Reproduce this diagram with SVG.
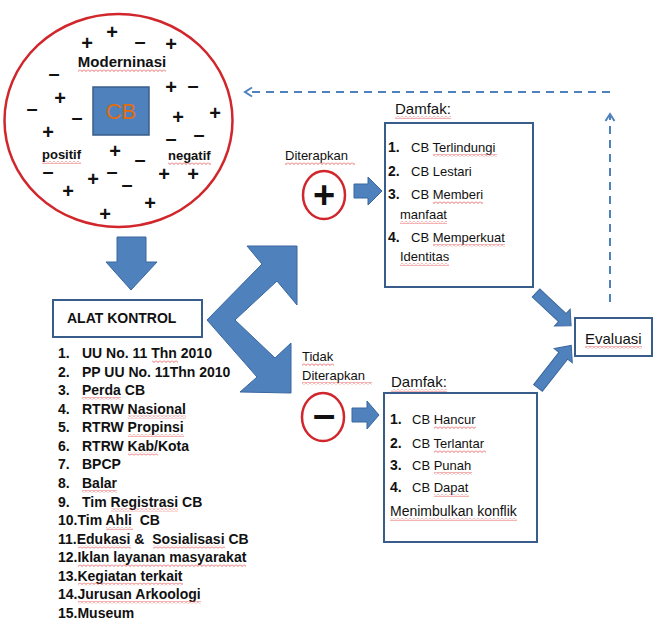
<svg xmlns="http://www.w3.org/2000/svg" width="654" height="619" viewBox="0 0 654 619">
<style>
text{font-family:"Liberation Sans",Arial,sans-serif;fill:#111}
.pm{font-weight:bold;font-size:20px;text-anchor:middle}
.blk{fill:#4f81bd;stroke:#3a679f;stroke-width:1}
.box{fill:#fff;stroke:#385d8a;stroke-width:2}
.red{fill:#fff;stroke:#d0262c;stroke-width:2.5}
.li{font-size:14px;font-weight:bold}
.num{font-size:14px;font-weight:bold}
.it{font-size:13px}
.lbl{font-size:13px}
.dash{fill:none;stroke:#4f81bd;stroke-width:2;stroke-dasharray:8 6}
.sq{fill:url(#squig)}
</style>
<defs>
<marker id="open" markerWidth="12" markerHeight="12" refX="10" refY="6" orient="auto" markerUnits="userSpaceOnUse">
<path d="M3,1.5 L10,6 L3,10.5" fill="none" stroke="#4f81bd" stroke-width="2"/>
</marker>
<pattern id="squig" width="4" height="3" patternUnits="userSpaceOnUse">
<path d="M0,0.5 L2,2.5 L4,0.5" fill="none" stroke="#e0413f" stroke-width="0.8"/>
</pattern>
</defs>
<rect width="654" height="619" fill="#fff"/>

<g id="modernisasi">
<ellipse class="red" cx="118.5" cy="120.5" rx="114" ry="106.5"/>
<rect x="93" y="87" width="56" height="48" fill="#4f81bd" stroke="#385d8a" stroke-width="1.5"/>
<text x="121" y="119" font-size="22" style="fill:#e46c0a" text-anchor="middle">CB</text>
<text x="122" y="67" font-size="15" font-weight="bold" text-anchor="middle">Moderninasi</text>
<text x="42" y="159" font-size="13" font-weight="bold">positif</text>
<text x="168" y="160" font-size="13" font-weight="bold">negatif</text>
<g class="pm">
<text x="112" y="39">+</text>
<text x="87" y="50">+</text>
<text x="140" y="48">–</text>
<text x="171" y="51">+</text>
<text x="54" y="80">–</text>
<text x="171" y="94">+</text>
<text x="193" y="92">–</text>
<text x="60" y="105">+</text>
<text x="32" y="115">–</text>
<text x="77" y="124">–</text>
<text x="178" y="124">+</text>
<text x="215" y="120">+</text>
<text x="48" y="139">+</text>
<text x="171" y="145">–</text>
<text x="199" y="141">–</text>
<text x="115" y="158">+</text>
<text x="140" y="166">–</text>
<text x="48" y="178">–</text>
<text x="93" y="186">+</text>
<text x="112" y="178">–</text>
<text x="164" y="181">+</text>
<text x="193" y="181">+</text>
<text x="68" y="198">+</text>
<text x="127" y="191">–</text>
<text x="150" y="210">+</text>
<text x="105" y="221">+</text>
</g>
</g>

<g id="alat-kontrol">
<rect class="box" x="53" y="300" width="149" height="37"/>
<text x="67" y="323" font-size="14" font-weight="bold">ALAT KONTROL</text>
<g class="li">
<text x="58" y="358">1.</text><text x="82" y="358">UU No. 11 Thn 2010</text>
<text x="58" y="376.6">2.</text><text x="82" y="376.6">PP UU No. 11Thn 2010</text>
<text x="58" y="395.1">3.</text><text x="82" y="395.1">Perda CB</text>
<text x="58" y="413.7">4.</text><text x="82" y="413.7">RTRW Nasional</text>
<text x="58" y="432.3">5.</text><text x="82" y="432.3">RTRW Propinsi</text>
<text x="58" y="450.9">6.</text><text x="82" y="450.9">RTRW Kab/Kota</text>
<text x="58" y="469.4">7.</text><text x="82" y="469.4">BPCP</text>
<text x="58" y="488">8.</text><text x="82" y="488">Balar</text>
<text x="58" y="506.6">9.</text><text x="82" y="506.6">Tim Registrasi CB</text>
<text x="58" y="525.1">10.Tim Ahli&#160; CB</text>
<text x="58" y="543.7">11.Edukasi &amp;&#160; Sosialisasi CB</text>
<text x="58" y="562.3">12.Iklan layanan masyarakat</text>
<text x="58" y="580.8">13.Kegiatan terkait</text>
<text x="58" y="599.4">14.Jurusan Arkoologi</text>
<text x="58" y="617.5">15.Museum</text>
</g>
</g>

<g id="diterapkan">
<text class="lbl" x="285" y="160">Diterapkan</text>
<ellipse class="red" cx="324" cy="195" rx="21" ry="24"/>
<text x="324" y="208" font-size="38" font-weight="bold" text-anchor="middle">+</text>
</g>

<g id="tidak-diterapkan">
<text class="lbl" x="302" y="361">Tidak</text>
<text class="lbl" x="302" y="380">Diterapkan</text>
<ellipse class="red" cx="323" cy="417" rx="21" ry="24"/>
<text x="324" y="428" font-size="40" font-weight="bold" text-anchor="middle">–</text>
</g>

<g id="damfak-positif">
<text x="395" y="114" font-size="15">Damfak:</text>
<rect class="box" x="385" y="123" width="148" height="164"/>
<text class="num" x="388" y="152">1.</text><text class="it" x="411" y="152">CB Terlindungi</text>
<text class="num" x="388" y="175.5">2.</text><text class="it" x="411" y="175.5">CB Lestari</text>
<text class="num" x="388" y="199">3.</text><text class="it" x="411" y="199">CB Memberi</text>
<text class="it" x="400" y="219">manfaat</text>
<text class="num" x="388" y="242">4.</text><text class="it" x="411" y="242">CB Memperkuat</text>
<text class="it" x="400" y="261">Identitas</text>
</g>

<g id="damfak-negatif">
<text x="391" y="387" font-size="15">Damfak:</text>
<rect class="box" x="384" y="393" width="153" height="149"/>
<text class="num" x="390" y="424">1.</text><text class="it" x="412" y="424">CB Hancur</text>
<text class="num" x="390" y="448">2.</text><text class="it" x="412" y="448">CB Terlantar</text>
<text class="num" x="390" y="470">3.</text><text class="it" x="412" y="470">CB Punah</text>
<text class="num" x="390" y="492">4.</text><text class="it" x="412" y="492">CB Dapat</text>
<text x="390" y="516" font-size="14">Menimbulkan konflik</text>
</g>

<g id="evaluasi">
<rect class="box" x="575" y="318" width="77" height="38"/>
<text x="585" y="344" font-size="15">Evaluasi</text>
</g>

<g id="spellcheck">
<rect class="sq" x="78" y="69" width="88" height="3"/>
<rect class="sq" x="42" y="161" width="39" height="3"/>
<rect class="sq" x="168" y="162" width="43" height="3"/>
<rect class="sq" x="285" y="162" width="70" height="3"/>
<rect class="sq" x="302" y="363" width="32" height="3"/>
<rect class="sq" x="302" y="382" width="70" height="3"/>
<rect class="sq" x="395" y="116" width="56" height="3"/>
<rect class="sq" x="391" y="389" width="56" height="3"/>
<rect class="sq" x="433" y="154" width="64" height="3"/>
<rect class="sq" x="433" y="201" width="50" height="3"/>
<rect class="sq" x="400" y="221" width="47" height="3"/>
<rect class="sq" x="433" y="244" width="72" height="3"/>
<rect class="sq" x="400" y="263" width="49" height="3"/>
<rect class="sq" x="434" y="426" width="42" height="3"/>
<rect class="sq" x="434" y="450" width="52" height="3"/>
<rect class="sq" x="434" y="472" width="38" height="3"/>
<rect class="sq" x="434" y="494" width="35" height="3"/>
<rect class="sq" x="390" y="518" width="127" height="3"/>
<rect class="sq" x="585" y="346" width="57" height="3"/>
<rect class="sq" x="152" y="360" width="26" height="3"/>
<rect class="sq" x="82" y="397" width="39" height="3"/>
<rect class="sq" x="128" y="415.5" width="58" height="3"/>
<rect class="sq" x="128" y="434" width="56" height="3"/>
<rect class="sq" x="128" y="452.5" width="30" height="3"/>
<rect class="sq" x="82" y="490" width="35" height="3"/>
<rect class="sq" x="111" y="508.5" width="67" height="3"/>
<rect class="sq" x="106" y="527" width="27" height="3"/>
<rect class="sq" x="78" y="545.5" width="53" height="3"/>
<rect class="sq" x="153" y="545.5" width="72" height="3"/>
<rect class="sq" x="78" y="564" width="168" height="3"/>
<rect class="sq" x="78" y="582.5" width="105" height="3"/>
<rect class="sq" x="78" y="601" width="123" height="3"/>
</g>

<g id="connectors">
<polygon class="blk" points="117,237 146,237 146,262 157,262 131,290 106,262 117,262"/>
<polygon class="blk" points="207,320 262,264 247,246 297,246 297,305 277,281 235,320 275,358 291,343 291,393 240,392 257,377"/>
<polygon class="blk" points="354,184 368,184 368,177 382,191 368,205 368,198 354,198"/>
<polygon class="blk" points="352,408 367,408 367,401 379,415 367,429 367,422 352,422"/>
<path class="blk" transform="translate(536,293) rotate(43)" d="M0,-5.5 L36,-5.5 L36,-11.5 L48,0 L36,11.5 L36,5.5 L0,5.5 Z"/>
<path class="blk" transform="translate(538,388) rotate(-52)" d="M0,-5.5 L41,-5.5 L41,-11.5 L54,0 L41,11.5 L41,5.5 L0,5.5 Z"/>
<line class="dash" x1="610" y1="302" x2="610" y2="114" marker-end="url(#open)"/>
<line class="dash" x1="610" y1="92" x2="245" y2="92" marker-end="url(#open)"/>
</g>
</svg>
